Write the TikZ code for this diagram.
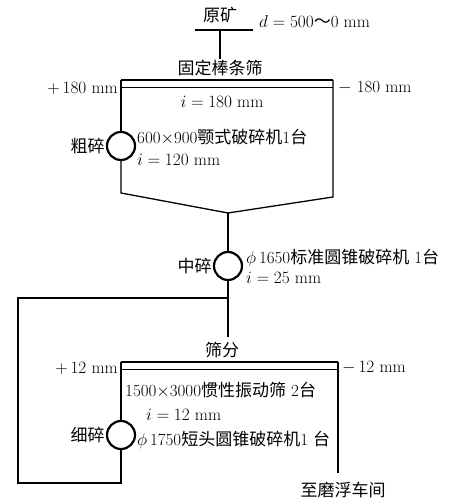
\documentclass[tikz,border=0pt]{standalone}
\usepackage{fontspec}
\usepackage{tikz}
\usetikzlibrary{calc, positioning}
\newfontfamily\cjk{Noto Sans CJK SC}
\newcommand{\zh}[1]{{\cjk #1}}

\begin{document}
\begin{tikzpicture}[x=1pt, y=1pt,
		every node/.style={font=\fontsize{17}{19}\selectfont, inner sep=1pt},
		flow/.style={line width=1.3pt},
		crusher/.style={circle, draw, line width=2.2pt, minimum size=28pt, inner sep=0pt},
		screentop/.style={line width=2.2pt},
		screenlow/.style={line width=0.7pt}]
		\useasboundingbox (0,0) rectangle (460,502);
		
		% Feed
		\node (feed) at (220,487) {\zh{原矿}};
		\coordinate (fl) at (195,472);
		\coordinate (fr) at (253,472);
		\coordinate (fm) at (220,472);
		\draw[flow] (fl) -- (fr);
		\node[anchor=west] (feedsize) at (258,480) {$d=500$\zh{～}0 mm};
		\node (grizzly) at (220,434) {\zh{固定棒条筛}};
		\draw[flow] (fm) -- (grizzly);
		
		% Grizzly screen
		\coordinate (s1l) at (121,422);
		\coordinate (s1r) at (333,422);
		\coordinate (s1lb) at (121,415);
		\coordinate (s1rb) at (333,415);
		\draw[screentop] (s1l) -- (s1r);
		\draw[screenlow] (s1lb) -- (s1rb);
		\node[anchor=east] (over1) at (119,414) {$+\,180$ mm};
		\node[anchor=west] (under1) at (337,414) {$-$\ 180 mm};
		\node (gap1) at (222,400) {$i=180$ mm};
		
		% Primary crusher
		\node[crusher] (c1) at (121,356) {};
		\node[anchor=east] (c1name) at (c1.west) {\zh{粗碎}};
		\node[anchor=west] (c1spec) at (136,365) {600$\times$900\zh{颚式破碎机}1\zh{台}};
		\node[anchor=west] (c1gap) at (136,342) {$i=120$ mm};
		
		% Merge of screen products
		\coordinate (b1l) at (121,309);
		\coordinate (b1r) at (333,305);
		\coordinate (b1m) at (228,289);
		\draw[flow] (s1l) -- (c1);
		\draw[flow] (c1) -- (b1l) -- (b1m) -- (b1r) -- (s1r);
		
		% Secondary crusher
		\node[crusher] (c2) at (228,236) {};
		\node[anchor=east] (c2name) at (c2.west) {\zh{中碎}};
		\node[anchor=west] (c2spec) at (245,244) {$\phi$\,1650\zh{标准圆锥破碎机}\ 1\zh{台}};
		\node[anchor=west] (c2gap) at (245,224) {$i=25$ mm};
		\draw[flow] (b1m) -- (c2);
		
		% Vibrating screen
		\node (screening) at (222,152) {\zh{筛分}};
		\coordinate (sfeed) at (228,165);
		\draw[flow] (c2) -- (sfeed);
		\coordinate (s2l) at (121,140);
		\coordinate (s2r) at (338,140);
		\coordinate (s2lb) at (121,133);
		\coordinate (s2rb) at (338,133);
		\draw[screentop] (s2l) -- (s2r);
		\draw[screenlow] (s2lb) -- (s2rb);
		\node[anchor=east] (over2) at (119,134) {$+\,12$ mm};
		\node[anchor=west] (under2) at (341,134) {$-\,12$ mm};
		\node[anchor=west] (s2spec) at (124,112) {1500$\times$3000\zh{惯性振动筛}\ 2\zh{台}};
		\node[anchor=west] (c3gap) at (145,87) {$i=12$ mm};
		
		% Tertiary crusher
		\node[crusher] (c3) at (121,67) {};
		\node[anchor=east] (c3name) at (c3.west) {\zh{细碎}};
		\node[anchor=west] (c3spec) at (136,62) {$\phi$\,1750\zh{短头圆锥破碎机}1\ \zh{台}};
		\draw[flow] (s2l) -- (c3);
		
		% Closed circuit
		\coordinate (join) at (228,204);
		\coordinate (r1) at (18,204);
		\coordinate (r2) at (18,19);
		\coordinate (r3) at (121,19);
		\draw[flow] (c3) -- (r3) -- (r2) -- (r1) -- (join);
		
		% Product
		\coordinate (out) at (338,29);
		\node (product) at (343,12) {\zh{至磨浮车间}};
		\draw[flow] (s2r) -- (out);
	\end{tikzpicture}
\end{document}
